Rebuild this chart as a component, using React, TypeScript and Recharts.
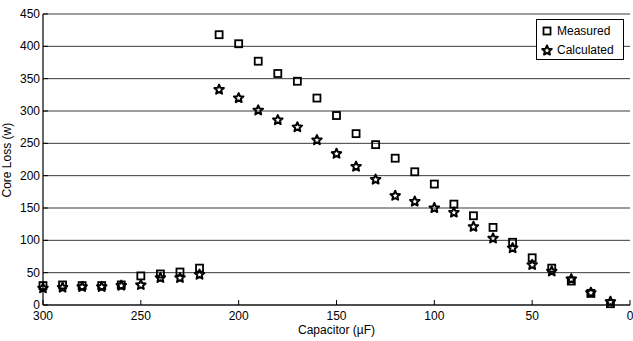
import React from 'react';
import { ScatterChart, Scatter, XAxis, YAxis, CartesianGrid, Legend } from 'recharts';

const capacitance = [300, 290, 280, 270, 260, 250, 240, 230, 220, 210, 200, 190, 180, 170, 160, 150, 140, 130, 120, 110, 100, 90, 80, 70, 60, 50, 40, 30, 20, 10];
const measured = [30, 31, 30, 30, 31, 45, 48, 51, 57, 418, 404, 377, 358, 346, 320, 293, 265, 248, 227, 206, 187, 156, 138, 120, 97, 73, 57, 37, 18, 2];
const calculated = [26, 27, 28, 28, 30, 31, 42, 42, 47, 333, 320, 301, 286, 275, 255, 234, 214, 194, 169, 160, 150, 143, 121, 103, 88, 62, 52, 40, 19, 5];
const xTicks = [0, 50, 100, 150, 200, 250, 300];
const yTicks = [0, 50, 100, 150, 200, 250, 300, 350, 400, 450];

const measuredData = capacitance.map((c, i) => ({ x: c, y: measured[i] }));
const calculatedData = capacitance.map((c, i) => ({ x: c, y: calculated[i] }));

const FONT = '"Liberation Sans", Arial, sans-serif';

const starPoints = (cx: number, cy: number, ro: number, ri: number) => {
  const pts: string[] = [];
  for (let k = 0; k < 10; k++) {
    const r = k % 2 === 0 ? ro : ri;
    const a = -Math.PI / 2 + (k * Math.PI) / 5;
    pts.push(`${cx + r * Math.cos(a)},${cy + r * Math.sin(a)}`);
  }
  return pts.join(' ');
};

const SquareMark = (p: any) => (
  <rect x={p.cx - 3.5} y={p.cy - 3.5} width={7} height={7} fill="none" stroke="#000" strokeWidth={1.8} />
);
const StarMark = (p: any) => (
  <polygon points={starPoints(p.cx, p.cy, 5, 2.3)} fill="none" stroke="#000" strokeWidth={2} strokeLinejoin="round" />
);

const BottomTick = (p: any) => (
  <g>
    <line x1={p.x} x2={p.x} y1={p.y - 3} y2={p.y - 8} stroke="#000" />
    <text x={p.x} y={p.y + 12} textAnchor="middle" fontSize={12} fontFamily={FONT} fill="#000">{p.payload.value}</text>
  </g>
);
const LeftTick = (p: any) => (
  <g>
    <line x1={p.x + 3} x2={p.x + 8} y1={p.y} y2={p.y} stroke="#000" />
    <text x={p.x} y={p.y + 4} textAnchor="end" fontSize={12} fontFamily={FONT} fill="#000">{p.payload.value}</text>
  </g>
);
const TopTick = (p: any) => (
  <line x1={p.x} x2={p.x} y1={p.y} y2={p.y + 5} stroke="#000" />
);
const RightTick = (p: any) => (
  <line x1={p.x} x2={p.x - 5} y1={p.y} y2={p.y} stroke="#000" />
);

const LegendBox = () => (
  <div style={{ width: 86, height: 39, border: '1px solid #000', background: '#fff', fontFamily: FONT, fontSize: 12, color: '#000', boxSizing: 'content-box' }}>
    <div style={{ display: 'flex', alignItems: 'center', height: 19, marginTop: 1 }}>
      <svg width={20} height={14}><rect x={6.5} y={3.5} width={7} height={7} fill="none" stroke="#000" strokeWidth={1.8} /></svg>
      <span>Measured</span>
    </div>
    <div style={{ display: 'flex', alignItems: 'center', height: 19 }}>
      <svg width={20} height={14}><polygon points={starPoints(10, 7.5, 5, 2.3)} fill="none" stroke="#000" strokeWidth={2} strokeLinejoin="round" /></svg>
      <span>Calculated</span>
    </div>
  </div>
);

export default function App() {
  return (
    <div style={{ position: 'absolute', left: 0, top: 0, width: 633, height: 341, background: '#fff' }}>
      <ScatterChart width={633} height={341} margin={{ top: 14, right: 3, bottom: 0, left: 0 }}>
        <CartesianGrid vertical={false} stroke="#3a3a3a" strokeWidth={1} />
        <XAxis
          type="number"
          dataKey="x"
          domain={[0, 300]}
          ticks={xTicks}
          reversed
          height={36}
          axisLine={{ stroke: '#000', strokeWidth: 1.2 }}
          tickLine={false}
          tickSize={0}
          tickMargin={3}
          tick={<BottomTick />}
          interval={0}
          label={{ value: 'Capacitor (\u00B5F)', position: 'insideBottom', offset: 7, fontSize: 12, fontFamily: FONT, fill: '#000' }}
        />
        <XAxis
          xAxisId="t"
          orientation="top"
          type="number"
          domain={[0, 300]}
          ticks={xTicks}
          reversed
          height={0}
          axisLine={{ stroke: '#000', strokeWidth: 1.2 }}
          tickLine={false}
          tickSize={0}
          tickMargin={0}
          tick={<TopTick />}
          interval={0}
        />
        <YAxis
          type="number"
          dataKey="y"
          domain={[0, 450]}
          ticks={yTicks}
          width={43}
          axisLine={{ stroke: '#000', strokeWidth: 1.2 }}
          tickLine={false}
          tickSize={0}
          tickMargin={3}
          tick={<LeftTick />}
          interval={0}
          label={{ value: 'Core Loss (w)', angle: -90, position: 'insideLeft', offset: 7, dy: 38, fontSize: 12, fontFamily: FONT, fill: '#000' }}
        />
        <YAxis
          yAxisId="r"
          orientation="right"
          type="number"
          domain={[0, 450]}
          ticks={yTicks}
          width={0}
          axisLine={{ stroke: '#000', strokeWidth: 1.2 }}
          tickLine={false}
          tickSize={0}
          tickMargin={0}
          tick={<RightTick />}
          interval={0}
        />
        <Legend
          layout="vertical"
          align="center"
          verticalAlign="middle"
          content={() => <LegendBox />}
          wrapperStyle={{ position: 'absolute', top: 19, left: 536, width: 88, height: 41 }}
        />
        <Scatter name="Measured" data={measuredData} shape={<SquareMark />} isAnimationActive={false} />
        <Scatter name="Calculated" data={calculatedData} shape={<StarMark />} isAnimationActive={false} />
      </ScatterChart>
    </div>
  );
}
